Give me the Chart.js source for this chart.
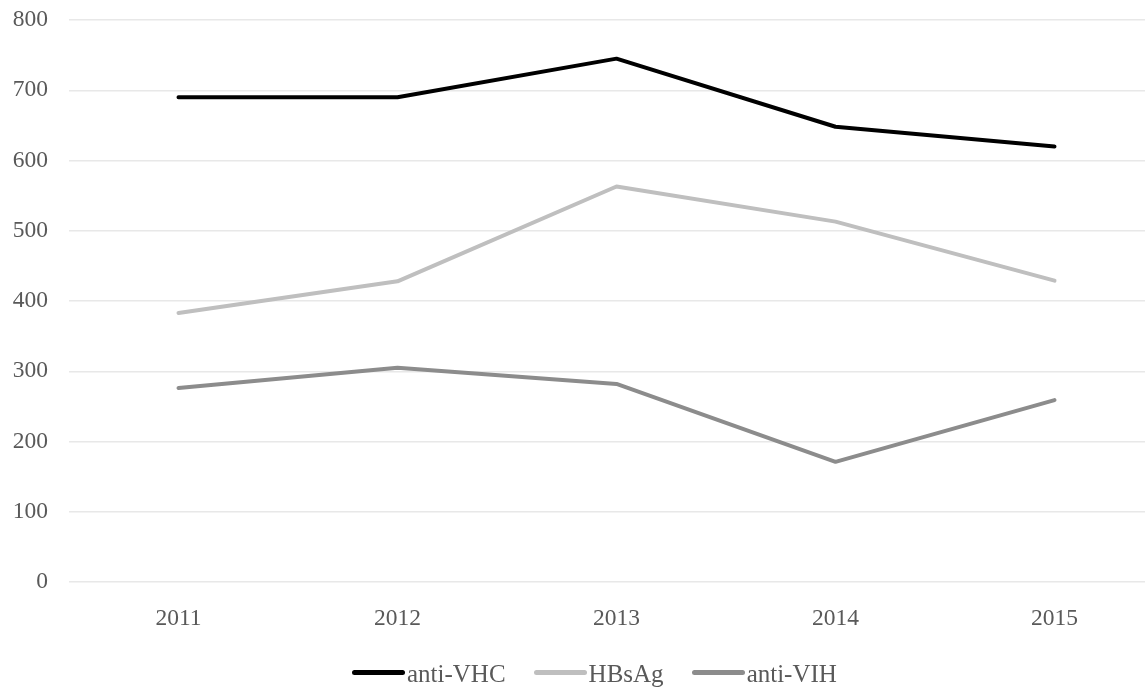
<!DOCTYPE html>
<html>
<head>
<meta charset="utf-8">
<script src="https://cdn.jsdelivr.net/npm/chart.js@4/dist/chart.umd.min.js"></script>
<style>
  html, body { margin: 0; padding: 0; background: #fff; }
  #wrap { position: relative; width: 1145px; height: 688px; overflow: hidden; }
  #canvasDiv { position: absolute; left: 0; top: 0; width: 1164px; height: 688px; }
  #legend { position: absolute; left: 352px; top: 660px; display: flex; align-items: center;
            font-family: "Liberation Serif", "Times New Roman", serif; font-size: 25px; color: #595959; }
  #legend .item { display: flex; align-items: center; margin-right: 28px; }
  #legend .sw { display: inline-block; width: 53px; height: 5px; border-radius: 3px; margin-right: 2px; margin-top: -4px; }
</style>
</head>
<body>
<div id="wrap">
  <div id="canvasDiv"><canvas id="myChart" width="1164" height="688"></canvas></div>
  <div id="legend"></div>
</div>
<script>
let years = ['2011', '2012', '2013', '2014', '2015'];
let seriesNames = ['anti-VHC', 'HBsAg', 'anti-VIH'];
let antiVHC = [690, 690, 745, 648, 620];
let hbsag = [383, 428, 563, 513, 429];
let antiVIH = [276, 305, 282, 171, 259];
let colors = ['#000000', '#bfbfbf', '#8c8c8c'];

let ctx = document.getElementById('myChart').getContext('2d');
let font = "'Liberation Serif', 'Times New Roman', serif";

let myChart = new Chart(ctx, {
    type: 'line',
    data: {
        labels: years,
        datasets: [antiVHC, hbsag, antiVIH].map(function(d, i){
            return {
                label: seriesNames[i],
                data: d,
                borderColor: colors[i],
                backgroundColor: colors[i],
                borderWidth: 4,
                borderCapStyle: 'round',
                borderJoinStyle: 'round',
                pointRadius: 0,
                tension: 0,
                fill: false
            };
        })
    },
    options: {
        responsive: false,
        animation: false,
        layout: { padding: { left: 13, right: 0, top: 20, bottom: 55 } },
        plugins: {
            legend: { display: false },
            tooltip: { enabled: false }
        },
        scales: {
            x: {
                offset: true,
                afterFit: function(scale){ scale.height = 51; },
                grid: { display: false, drawTicks: false },
                border: { display: false },
                ticks: { color: '#595959', padding: 23, font: { family: font, size: 23.5 } }
            },
            y: {
                min: 0,
                max: 800,
                afterFit: function(scale){ scale.width = 56; scale.paddingTop = 0; scale.paddingBottom = 0; },
                grid: { color: '#e8e8e8', lineWidth: 1.5, drawTicks: false },
                border: { display: false },
                ticks: { stepSize: 100, color: '#595959', padding: 21, font: { family: font, size: 23.5 } }
            }
        }
    }
});

// legend
let legend = document.getElementById('legend');
seriesNames.forEach(function(name, i){
    let item = document.createElement('span');
    item.className = 'item';
    let sw = document.createElement('span');
    sw.className = 'sw';
    sw.style.background = colors[i];
    item.appendChild(sw);
    item.appendChild(document.createTextNode(name));
    legend.appendChild(item);
});
</script>
</body>
</html>
